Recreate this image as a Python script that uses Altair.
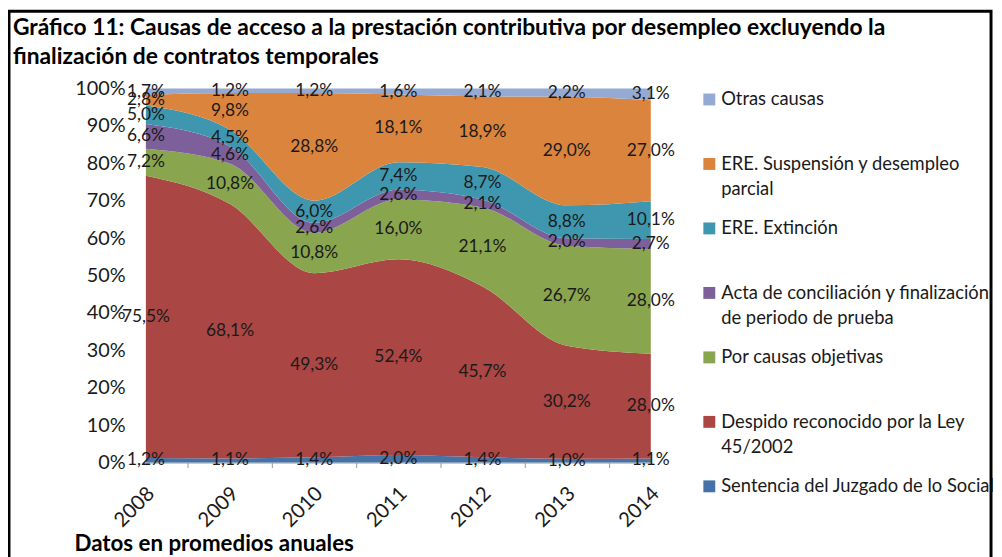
import altair as alt
import pandas as pd

# ---------------- data ----------------
years = [2008, 2009, 2010, 2011, 2012, 2013, 2014]
series = [
    "Sentencia del Juzgado de lo Social",
    "Despido reconocido por la Ley 45/2002",
    "Por causas objetivas",
    "Acta de conciliación y finalización de periodo de prueba",
    "ERE. Extinción",
    "ERE. Suspensión y desempleo parcial",
    "Otras causas",
]
legend_text = [
    "Sentencia del Juzgado de lo Social",
    "Despido reconocido por la Ley\n45/2002",
    "Por causas objetivas",
    "Acta de conciliación y finalización\nde periodo de prueba",
    "ERE. Extinción",
    "ERE. Suspensión y desempleo\nparcial",
    "Otras causas",
]
sentencia = [1.2, 1.1, 1.4, 2.0, 1.4, 1.0, 1.1]
despido = [75.5, 68.1, 49.3, 52.4, 45.7, 30.2, 28.0]
objetivas = [7.2, 10.8, 10.8, 16.0, 21.1, 26.7, 28.0]
acta = [6.6, 4.6, 2.6, 2.6, 2.1, 2.0, 2.7]
ere_extincion = [5.0, 4.5, 6.0, 7.4, 8.7, 8.8, 10.1]
ere_suspension = [2.8, 9.8, 28.8, 18.1, 18.9, 29.0, 27.0]
otras = [1.7, 1.2, 1.2, 1.6, 2.1, 2.2, 3.1]
values = [sentencia, despido, objetivas, acta, ere_extincion, ere_suspension, otras]

colors = ["#4572A7", "#AA4643", "#89A54E", "#7D5F9A", "#3F97AF", "#DB843D", "#94AAD2"]

title_lines = [
    "Gráfico 11: Causas de acceso a la prestación contributiva por desempleo excluyendo la",
    "finalización de contratos temporales",
]
footer = "Datos en promedios anuales"

# ---------------- tables ----------------
rows = []
for k, (name, vals) in enumerate(zip(series, values)):
    for y, v in zip(years, vals):
        rows.append({"year": y, "serie": name, "value": v, "k": k})
df = pd.DataFrame(rows)
leg = pd.DataFrame({"serie": series, "txt": legend_text, "k": list(range(len(series)))})

FONT = "Lato"
TXT = "#1a1a1a"
color_scale = alt.Scale(domain=series, range=colors)
x_scale = alt.Scale(domain=[2008, 2014], nice=False, zero=False)
y_scale = alt.Scale(domain=[0, 1], nice=False)

x_axis = alt.Axis(
    values=[2008 + 0.5 * i for i in range(13)],
    labelExpr="datum.value % 1 === 0 ? '' + datum.value : ''",
    labelAngle=-45, labelAlign="right", labelBaseline="middle",
    labelFont=FONT, labelFontSize=20.5, labelColor=TXT,
    labelPadding=23, labelOffset=5, labelOverlap=False, labelFlush=False, labelBound=False,
    tickSize=5, tickColor="#9a9a9a",
    tickOpacity={"condition": {"test": "datum.value % 1 !== 0", "value": 1}, "value": 0},
    domainColor="#9a9a9a", grid=False, title=None,
)
y_axis = alt.Axis(
    values=[i / 10 for i in range(11)], format=".0%",
    labelFont=FONT, labelFontSize=20, labelColor=TXT, labelPadding=21,
    labelOverlap=False, labelFlush=False,
    ticks=False, domain=False, grid=False, title=None,
)

base = alt.Chart(df).transform_stack(
    stack="value", groupby=["year"], as_=["y0", "y1"],
    sort=[alt.SortField("k", order="ascending")], offset="normalize",
).transform_calculate(
    ym="(datum.y0 + datum.y1) / 2",
    lbl="replace(format(datum.value, '.1f'), '.', ',') + '%'",
)

areas = base.mark_area(interpolate="monotone", opacity=1).encode(
    x=alt.X("year:Q", scale=x_scale, axis=x_axis),
    y=alt.Y("y0:Q", scale=y_scale, axis=y_axis),
    y2="y1:Q",
    color=alt.Color("serie:N", scale=color_scale, legend=None),
)

labels = base.mark_text(font=FONT, fontSize=17.5, color=TXT).encode(
    x=alt.X("year:Q", scale=x_scale, axis=x_axis),
    y=alt.Y("ym:Q", scale=y_scale, axis=y_axis),
    text="lbl:N",
)

leg_base = alt.Chart(leg).transform_calculate(
    ly="(6 - datum.k) * 65 + 11", ty="(6 - datum.k) * 65 + 17"
)
leg_sq = leg_base.mark_square(size=144, opacity=1).encode(
    x=alt.value(568),
    y=alt.Y("ly:Q", scale=None),
    color=alt.Color("serie:N", scale=color_scale, legend=None),
)
leg_txt = leg_base.mark_text(
    font=FONT, fontSize=18.5, align="left", baseline="alphabetic",
    lineBreak="\n", lineHeight=25, color=TXT,
).encode(
    x=alt.value(580),
    y=alt.Y("ty:Q", scale=None),
    text="txt:N",
)

t1 = alt.Chart(pd.DataFrame({"t": [title_lines[0]]})).mark_text(
    font=FONT, fontSize=23, fontWeight="bold", align="left", baseline="alphabetic", color="black"
).encode(x=alt.value(-134), y=alt.value(-54), text="t:N")
t2 = alt.Chart(pd.DataFrame({"t": [title_lines[1]]})).mark_text(
    font=FONT, fontSize=23, fontWeight="bold", align="left", baseline="alphabetic", color="black"
).encode(x=alt.value(-134), y=alt.value(-25), text="t:N")
foot = alt.Chart(pd.DataFrame({"t": [footer]})).mark_text(
    font=FONT, fontSize=22.5, fontWeight="bold", align="left", baseline="alphabetic", color="black"
).encode(x=alt.value(-72), y=alt.value(466), text="t:N")

frame = alt.Chart(pd.DataFrame({"a": [0]})).mark_rect(
    fillOpacity=0, stroke="black", strokeWidth=3
).encode(x=alt.value(-138), x2=alt.value(852), y=alt.value(-78), y2=alt.value(520))

chart = alt.layer(areas, labels, leg_sq, leg_txt, t1, t2, foot, frame).properties(
    width=509, height=377,
    padding={"left": 139, "top": 79, "right": 346, "bottom": 93},
    autosize=alt.AutoSizeParams(type="none"),
    background="white",
).configure_view(strokeWidth=0)

chart.save("out.html", embed_options={"renderer": "svg", "actions": False})
